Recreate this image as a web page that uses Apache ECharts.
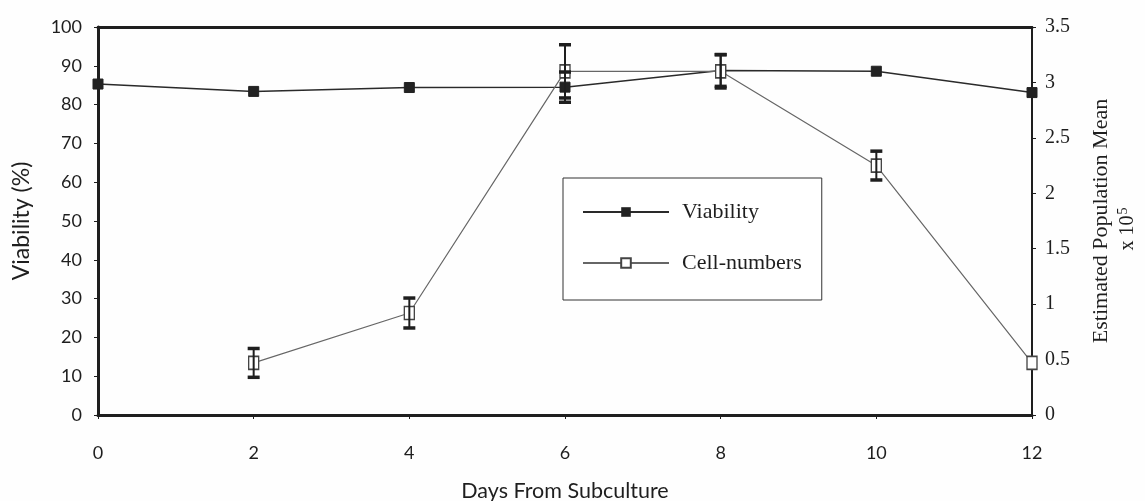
<!DOCTYPE html>
<html>
<head>
<meta charset="utf-8">
<script src="https://cdn.jsdelivr.net/npm/echarts@6/dist/echarts.min.js"></script>
<style>
html,body{margin:0;padding:0;background:#fff;}
#chart{width:1145px;height:501px;}
</style>
</head>
<body>
<div id="chart"></div>
<script>
// ---- data ----
const days = [0, 2, 4, 6, 8, 10, 12];
const viability = [85.3, 83.4, 84.4, 84.5, 88.8, 88.6, 83.1];
const viabilityErr = [0, 0, 0, 3.9, 4.1, 0, 0];
const cellDays = [2, 4, 6, 8, 10, 12];
const cellNumbers = [0.47, 0.92, 3.10, 3.10, 2.25, 0.47];
const cellErr = [0.13, 0.135, 0.24, 0.15, 0.13, 0];
const leftTicks = [0, 10, 20, 30, 40, 50, 60, 70, 80, 90, 100];
const rightTicks = [0, 0.5, 1, 1.5, 2, 2.5, 3, 3.5];

const SERIF = 'Liberation Serif';
const SANS = 'Lato';
const INK = '#1e1e1e';

const viaData = days.map((d, i) => [d, viability[i]]);
const cellData = cellDays.map((d, i) => [d, cellNumbers[i]]);
const viaErrData = days.map((d, i) => [d, viability[i] - viabilityErr[i], viability[i] + viabilityErr[i]]).filter((r, i) => viabilityErr[i] > 0);
const cellErrData = cellDays.map((d, i) => [d, cellNumbers[i] - cellErr[i], cellNumbers[i] + cellErr[i]]).filter((r, i) => cellErr[i] > 0);

function errRender(params, api) {
  const x = api.value(0);
  const lo = api.coord([x, api.value(1)]);
  const hi = api.coord([x, api.value(2)]);
  const hw = 6;
  const st = { stroke: INK, lineWidth: 2 };
  const cap = { stroke: INK, lineWidth: 3.5 };
  return {
    type: 'group',
    children: [
      { type: 'line', shape: { x1: lo[0], y1: lo[1], x2: hi[0], y2: hi[1] }, style: st },
      { type: 'line', shape: { x1: lo[0] - hw, y1: lo[1], x2: lo[0] + hw, y2: lo[1] }, style: cap },
      { type: 'line', shape: { x1: hi[0] - hw, y1: hi[1], x2: hi[0] + hw, y2: hi[1] }, style: cap }
    ]
  };
}

const chart = echarts.init(document.getElementById('chart'), null, { renderer: 'canvas' });
chart.setOption({
  backgroundColor: '#fefefe',
  animation: false,
  textStyle: { fontFamily: SERIF },
  grid: { left: 98, right: 113, top: 27, bottom: 86, containLabel: false, outerBoundsMode: 'none' },
  legend: {
    orient: 'vertical',
    left: 563, top: 178,
    padding: [23, 20, 26, 19],
    itemGap: 29,
    itemWidth: 86, itemHeight: 12,
    borderColor: '#333', borderWidth: 1,
    backgroundColor: '#fff',
    textStyle: { fontFamily: SERIF, fontSize: 22, color: INK, padding: [0, 0, 0, 8] },
    data: ['Viability', 'Cell-numbers']
  },
  xAxis: [{
    type: 'value', min: 0, max: 12, interval: 2,
    name: 'Days From Subculture', nameLocation: 'middle', nameGap: 65,
    nameTextStyle: { fontFamily: SANS, fontSize: 21.5, color: INK },
    axisLine: { onZero: false, lineStyle: { color: INK, width: 3 } },
    axisTick: { show: true, length: 4, lineStyle: { color: INK, width: 1 } },
    axisLabel: { fontFamily: SANS, fontSize: 18, color: INK, margin: 29 },
    splitLine: { show: false }
  }, {
    type: 'value', min: 0, max: 12, position: 'top',
    axisLine: { show: true, onZero: false, lineStyle: { color: INK, width: 3 } },
    axisTick: { show: false }, axisLabel: { show: false }, splitLine: { show: false }
  }],
  yAxis: [{
    type: 'value', min: 0, max: 100, interval: 10,
    name: 'Viability (%)', nameLocation: 'middle', nameGap: 65, nameRotate: 90,
    nameTextStyle: { fontFamily: SANS, fontSize: 23, color: INK },
    axisLine: { show: true, onZero: false, lineStyle: { color: INK, width: 3 } },
    axisTick: { show: true, length: 4, lineStyle: { color: INK, width: 1 } },
    axisLabel: { fontFamily: SANS, fontSize: 18, color: INK, margin: 16 },
    splitLine: { show: false }
  }, {
    type: 'value', min: 0, max: 3.5, interval: 0.5, position: 'right',
    name: 'Estimated Population Mean', nameLocation: 'middle', nameGap: 58, nameRotate: 90,
    nameTextStyle: { fontFamily: SERIF, fontSize: 22, color: INK },
    axisLine: { show: true, onZero: false, lineStyle: { color: INK, width: 2 } },
    axisTick: { show: true, length: 4, lineStyle: { color: INK, width: 1 } },
    axisLabel: { fontFamily: SERIF, fontSize: 20, color: INK, margin: 13,
      formatter: v => String(v) },
    splitLine: { show: false }
  }],
  graphic: [{
    type: 'text', x: 1128, y: 229, rotation: Math.PI / 2,
    style: {
      text: '{a|x 10}{s|5}', textAlign: 'center', textVerticalAlign: 'middle',
      rich: {
        a: { fontFamily: SERIF, fontSize: 20, fill: INK },
        s: { fontFamily: SERIF, fontSize: 14, fill: INK, verticalAlign: 'top', padding: [0, 0, 10, 1] }
      }
    }
  }],
  series: [{
    name: 'Viability', type: 'line', xAxisIndex: 0, yAxisIndex: 0,
    data: viaData, symbol: 'rect', symbolSize: 10,
    lineStyle: { color: '#2a2a2a', width: 1.5 },
    itemStyle: { color: '#222', borderColor: '#222' },
    z: 3
  }, {
    name: 'Cell-numbers', type: 'line', xAxisIndex: 0, yAxisIndex: 1,
    data: cellData, symbol: 'rect', symbolSize: [10, 13],
    lineStyle: { color: '#666', width: 1.2 },
    itemStyle: { color: '#fff', borderColor: '#444', borderWidth: 1.5 },
    z: 4
  }, {
    type: 'custom', xAxisIndex: 0, yAxisIndex: 0, data: viaErrData,
    renderItem: errRender, z: 5, silent: true
  }, {
    type: 'custom', xAxisIndex: 0, yAxisIndex: 1, data: cellErrData,
    renderItem: errRender, z: 5, silent: true
  }]
});
</script>
</body>
</html>
